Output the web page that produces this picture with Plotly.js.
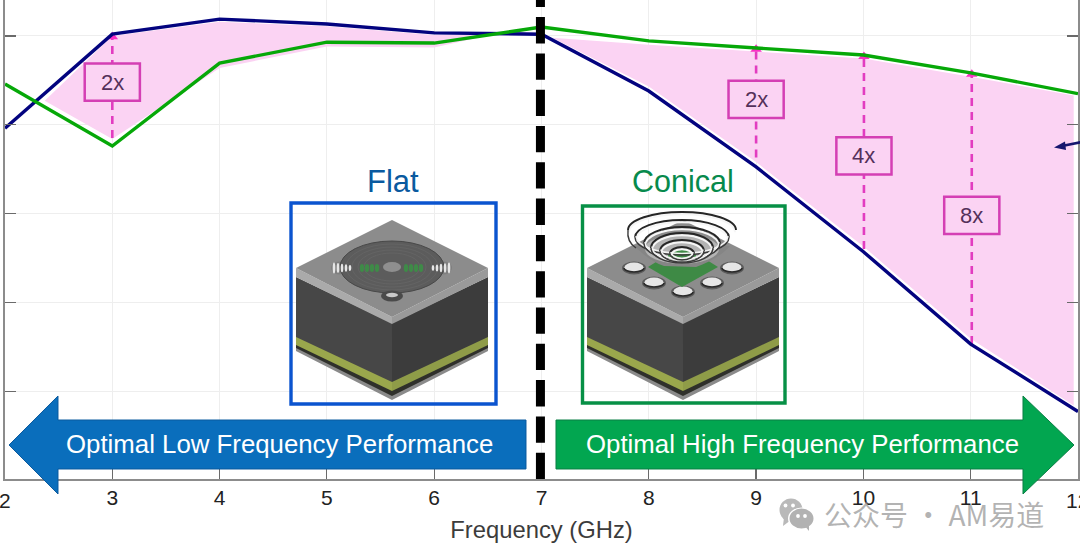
<!DOCTYPE html>
<html><head><meta charset="utf-8">
<script src="https://cdn.plot.ly/plotly-3.0.1.min.js"></script>
<style>html,body{margin:0;padding:0;background:#fff;overflow:hidden}#c{width:1080px;height:558px}</style>
</head><body><div id="c"></div>
<script>
// ---- chart data (y in dB-like units: one grid step = 10)
const frequency = [2,3,4,5,6,7,8,9,10,11,12];
const flatValues = [-10.4,0.2,1.9,1.35,0.35,0.2,-6.2,-14.75,-24.3,-34.7,-42.3];
const conicalValues = [-5.4,-12.4,-3.05,-0.7,-0.8,1.0,-0.55,-1.35,-2.15,-4.15,-6.5];
const tickFreq = [2,3,4,5,6,7,8,9,10,11,12];
const tickFreqText = ['','3','4','5','6','7','8','9','10','11',''];
const edgeTickText = ['2','12'];
const tickLevel = [-50,-40,-30,-20,-10,0];
// pink bands
const lowBandX = [2.37,3,4,5,6,6.55,6,5,4,3];
const lowBandY = [-7.3,0,1.6,1.1,0.1,0.2,-1.3,-1.2,-3.6,-11.6];
const highBandX = [7.1,8,9,10,11,11.96,11.96,11,10,9,8];
const highBandY = [-0.2,-1.0,-1.75,-2.55,-4.6,-6.7,-41.6,-34.1,-23.7,-14.2,-5.7];
// gain markers
const gainX = [3,9,10.005,11.01];
const gainTop = [-0.1,-1.5,-2.3,-4.3];
const gainBottom = [-11.5,-13.7,-24,-34.7];
const gainLabels = ['2x','2x','4x','8x'];
const gainBoxLevel = [-5.2,-7.15,-13.5,-20.2];
// text
const flatTitle='Flat', conicalTitle='Conical';
const lowText='Optimal Low Frequency Performance', highText='Optimal High Frequency Performance';
const xTitle='Frequency (GHz)', mark='公众号 · AM易道';

// ---- layout helpers
const W=1080,H=558,L=5,R=2,T=0,B=79,PW=W-L-R,PH=H-T-B;
const fx=p=>(p-L)/PW, fy=p=>1-(p-T)/PH;
const P=(x,y)=>fx(x).toFixed(5)+','+fy(y).toFixed(5);
const poly=pts=>'M'+pts.map(p=>P(p[0],p[1])).join('L')+'Z';
const shp=(path,fill,lc,lw,op)=>({type:'path',xref:'paper',yref:'paper',path,fillcolor:fill||'rgba(0,0,0,0)',line:{color:lc||'rgba(0,0,0,0)',width:lw||0},opacity:op==null?1:op,layer:'above'});
const oval=(cx,cy,rx,ry,fill,lc,lw)=>({type:'circle',xref:'paper',yref:'paper',x0:fx(cx-rx),x1:fx(cx+rx),y0:fy(cy-ry),y1:fy(cy+ry),fillcolor:fill||'rgba(0,0,0,0)',line:{color:lc||'rgba(0,0,0,0)',width:lw||0},layer:'above'});
const rect=(x0,y0,x1,y1,fill,lc,lw)=>({type:'rect',xref:'paper',yref:'paper',x0:fx(x0),x1:fx(x1),y0:fy(y0),y1:fy(y1),fillcolor:fill||'rgba(0,0,0,0)',line:{color:lc||'rgba(0,0,0,0)',width:lw||0},layer:'above'});
const K=0.5523;
const topArc=(cx,cy,rx,ry)=>`M${P(cx-rx,cy)}C${P(cx-rx,cy-K*ry)} ${P(cx-K*rx,cy-ry)} ${P(cx,cy-ry)}C${P(cx+K*rx,cy-ry)} ${P(cx+rx,cy-K*ry)} ${P(cx+rx,cy)}`;
const botArc=(cx,cy,rx,ry)=>`M${P(cx-rx,cy)}C${P(cx-rx,cy+K*ry)} ${P(cx-K*rx,cy+ry)} ${P(cx,cy+ry)}C${P(cx+K*rx,cy+ry)} ${P(cx+rx,cy+K*ry)} ${P(cx+rx,cy)}`;

function packageBody(c){
  const l=c-96,r=c+96, s=[];
  s.push(shp(poly([[l,344],[c,392],[r,344],[r,351],[c,400],[l,351]]),'#8a8a8a'));
  s.push(shp(poly([[l,343],[c,390],[r,343],[r,348],[c,396],[l,348]]),'#2f302b'));
  s.push(shp(poly([[l,336],[c,381],[c,391],[l,345]]),'#9aa74c'));
  s.push(shp(poly([[r,336],[c,381],[c,391],[r,345]]),'#8f9c48'));
  s.push(shp(poly([[l,277],[c,323],[c,382],[l,337]]),'#474747'));
  s.push(shp(poly([[r,277],[c,323],[c,382],[r,337]]),'#3c3c3c'));
  s.push(shp(poly([[l,268],[c,317],[c,324],[l,277]]),'#aaaaaa'));
  s.push(shp(poly([[r,268],[c,317],[c,324],[r,277]]),'#9a9a9a'));
  s.push(shp(poly([[c,220],[r,268],[c,317],[l,268]]),'#8c8c8c'));
  return s;
}
function hole(cx,cy){return [oval(cx,cy,12,6.5,'#5c5c5c'),oval(cx,cy-0.8,9.5,4.6,'#e6e6e6'),shp(botArc(cx,cy,10,4),null,'#2b2b2b',1.6)];}

let shapes=[];
// flat package
shapes.push(...packageBody(392));
shapes.push(oval(339,268,8,6.5,'#7f7f7f'),oval(444,268,8,6.5,'#7f7f7f'));
shapes.push(oval(392,267,52,26,'#5c5c5c','#484848',1));
[46,40,34,28].forEach(r=>shapes.push(oval(392,267,r,r/2,'rgba(0,0,0,0)','#666666',0.8)));
[362,367,372,377].forEach(x=>shapes.push(oval(x,268,2.2,4,'#3f8a48')));
[406,411,416,421].forEach(x=>shapes.push(oval(x,268,2.2,4,'#3f8a48')));
shapes.push(oval(392,267,9,5,'#8f8f8f'));
[334,338,342,346,350].forEach((x,i)=>shapes.push(oval(x,268,1.3,5.5-i*0.6,'#e6e6e6')));
[433,437,441,445,449].forEach((x,i)=>shapes.push(oval(x,268,1.3,3+i*0.6,'#e6e6e6')));
shapes.push(oval(392,296,11,5.5,'#4a4a4a'),oval(392,295,6,2.2,'#c9c9c9'));
// conical package
shapes.push(...packageBody(683));
shapes.push(...hole(634,268),...hole(732,268),...hole(654,283),...hole(712,283),...hole(683,292));
shapes.push(shp(poly([[683,245],[718,267],[682,287],[648,267]]),'#3e8a45'));
shapes.push(shp(`M${P(634,246)}C${P(645,256)} ${P(654,263)} ${P(664,266)}L${P(696,267)}C${P(710,262)} ${P(722,255)} ${P(730,246)}Z`,'#858585'));
shapes.push(oval(682,249,37,15,'#b4b4b4'));
shapes.push(oval(682,256,14,6,'#3e8a45'));
const ringY=[230,237.5,243.5,248,251,253.5], ringX=[54,47,38,31,22,12], ringR=[18,17.5,16.5,15,11,6.5];
ringY.forEach((y,i)=>{
  shapes.push(shp(topArc(682,y+2.2,ringX[i]-1,ringR[i]),null,'#f6f6f6',1.9));
  shapes.push(shp(topArc(682,y,ringX[i],ringR[i]),null,'#262626',1.9));
  if(i>0){
    shapes.push(shp(botArc(682,y-1.6,ringX[i]-1,ringR[i]),null,'#f2f2f2',1.5));
    shapes.push(shp(botArc(682,y,ringX[i],ringR[i]),null,'#3a3a3a',1.4));
  }
});
shapes.push(shp(`M${P(628,230)}C${P(627,238)} ${P(630,244)} ${P(636,248)}`,null,'#3a3a3a',1.4));
// package frames
shapes.push(rect(291,203,496,404,null,'#0b54cf',3.4));
shapes.push(rect(582.5,206,785,403,null,'#079046',3.4));
// gain boxes
const gainBoxes=gainX.map((x,i)=>({type:'rect',xref:'x',yref:'y',x0:x-0.257,x1:x+0.257,y0:gainBoxLevel[i]-2.1,y1:gainBoxLevel[i]+2.1,fillcolor:'#fbd3f3',line:{color:'#d43fb4',width:2.5},layer:'above'}));
shapes.push(...gainBoxes);
// performance arrows
shapes.push(shp(poly([[9,445],[58,396],[58,420],[526,420],[526,469],[58,469],[58,494]]),'#0a6ebc','#0b5a9e',1));
shapes.push(shp(poly([[556,420],[1023,420],[1023,396],[1074,445],[1023,494],[1023,469],[556,469]]),'#02a650','#0a7f45',1));
// centre divider
shapes.push({type:'line',xref:'x',yref:'paper',x0:6.99,x1:6.99,y0:0,y1:1,line:{color:'#000',width:9,dash:'26.3px,10px'},layer:'above'});
// small navy pointer
shapes.push(shp(`M${P(1082,142)}L${P(1062,146)}`,null,'#16166f',2.6));
shapes.push(shp(poly([[1054,147.5],[1065,141.5],[1066,150]]),'#16166f'));
// watermark icon
shapes.push(oval(791,510,11.5,11.5,'#b9b9b9'));
shapes.push(shp(poly([[784,517],[783,526],[791,520]]),'#b9b9b9'));
shapes.push(oval(801.5,518.5,13.5,11,'#fff'));
shapes.push(oval(801.5,518.5,12,10,'#b2b2b2'));
shapes.push(shp(poly([[804,525],[809,531],[809,523]]),'#b2b2b2'));
[[785.5,505.5],[793,505.5],[798,516],[805,516]].forEach(e=>shapes.push(oval(e[0],e[1],1.9,1.9,'#fff')));

const TF='"Liberation Sans",Arial,sans-serif';
const ann=(text,x,y,size,color,extra)=>Object.assign({text,xref:'paper',yref:'paper',x:fx(x),y:fy(y),xanchor:'center',yanchor:'middle',showarrow:false,font:{family:TF,size,color}},extra||{});
const annotations=[
  ann(flatTitle,393,181,31,'#0a5a9f'),
  ann(conicalTitle,683,181,30.5,'#078a4c'),
  ann(lowText,279,444,25.8,'#ffffff'),
  ann(highText,802,444,25.8,'#ffffff'),
  ann(edgeTickText[0],5,500,21,'#222'),
  ann(edgeTickText[1],1064,500,21,'#222',{xanchor:'left'}),
  ann(mark,934,514,28,'',{font:{family:'"Noto Sans CJK SC",sans-serif',size:28,color:'rgba(150,150,150,0.72)'}}),
  ...gainX.map((x,i)=>({text:gainLabels[i],xref:'x',yref:'y',x,y:gainBoxLevel[i],showarrow:false,xanchor:'center',yanchor:'middle',font:{family:TF,size:22,color:'#54305a'}}))
];

const traces=[
 {x:lowBandX,y:lowBandY,mode:'none',fill:'toself',fillcolor:'#fbd3f3',hoverinfo:'skip'},
 {x:highBandX,y:highBandY,mode:'none',fill:'toself',fillcolor:'#fbd3f3',hoverinfo:'skip'},
 ...gainX.map((x,i)=>({x:[x,x],y:[gainBottom[i],gainTop[i]],mode:'lines',line:{color:'#e23cc0',width:2.6,dash:'8px,6px'},hoverinfo:'skip'})),
 {x:gainX,y:gainTop,mode:'markers',marker:{symbol:'triangle-up',size:10,color:'#fb2fc4'},hoverinfo:'skip'},
 {x:frequency,y:flatValues,mode:'lines',line:{color:'#03037f',width:3.4},name:'Flat'},
 {x:frequency,y:conicalValues,mode:'lines',line:{color:'#06a808',width:3.4},name:'Conical'}
];
const layout={
 width:W,height:H,showlegend:false,paper_bgcolor:'#fff',plot_bgcolor:'#fff',
 margin:{l:L,r:R,t:T,b:B,pad:0},
 xaxis:{range:[2,12],tickmode:'array',tickvals:tickFreq,ticktext:tickFreqText,ticks:'inside',ticklen:10,tickwidth:1.2,tickcolor:'#6a6a6a',
   showline:true,linecolor:'#8c8c8c',linewidth:2,showgrid:true,gridcolor:'#eeeeee',gridwidth:1,zeroline:false,mirror:false,
   tickfont:{family:TF,size:21,color:'#222'},ticklabelstandoff:-1,
   title:{text:xTitle,font:{family:TF,size:23.8,color:'#3c3c3c'},standoff:13}},
 yaxis:{range:[-49.89,4.05],tickmode:'array',tickvals:tickLevel,ticks:'inside',ticklen:11,tickwidth:1.2,tickcolor:'#6a6a6a',showticklabels:false,
   showline:true,linecolor:'#8c8c8c',linewidth:2,showgrid:true,gridcolor:'#eeeeee',gridwidth:1,zeroline:false,mirror:'ticks'},
 shapes,annotations
};
Plotly.newPlot('c',traces,layout,{displayModeBar:false,staticPlot:true});
</script></body></html>
